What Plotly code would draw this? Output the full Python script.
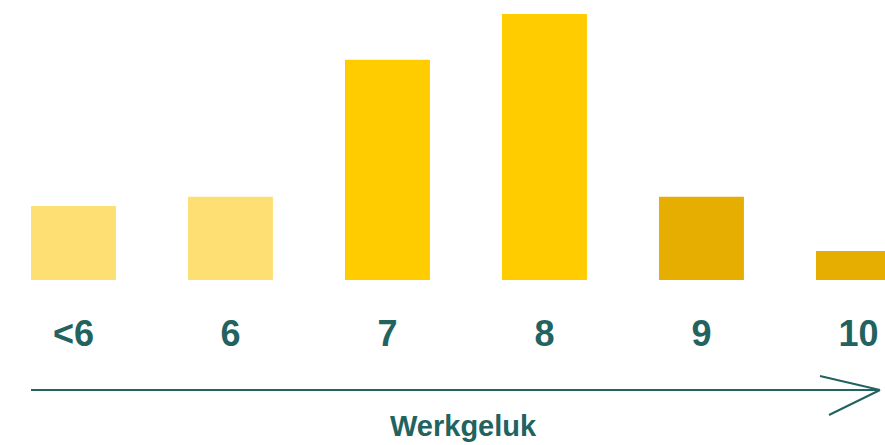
import plotly.graph_objects as go

categories = ["<6", "6", "7", "8", "9", "10"]
values = [8.9, 10.0, 26.5, 32.0, 10.0, 3.5]
bar_colors = ["#FEDF74", "#FEDF74", "#FFCC00", "#FFCC00", "#E5AE00", "#E5AE00"]
axis_title = "Werkgeluk"

TEAL = "#22625F"
W, H = 885, 445

fig = go.Figure(
    go.Bar(
        x=categories,
        y=values,
        marker=dict(color=bar_colors, line=dict(width=0)),
        hoverinfo="skip",
    )
)

fig.update_layout(
    width=W,
    height=H,
    margin=dict(l=0, r=0, t=0, b=0, pad=0, autoexpand=False),
    paper_bgcolor="white",
    plot_bgcolor="white",
    bargap=0.459,
    showlegend=False,
    xaxis=dict(
        type="category",
        range=[-0.468, 5.169],
        showgrid=False,
        zeroline=False,
        showline=False,
        ticks="",
        automargin=False,
        tickfont=dict(family="Liberation Sans, Arial, sans-serif", size=36,
                      color=TEAL, weight="bold"),
        ticklabelstandoff=29,
    ),
    yaxis=dict(
        domain=[1 - 280 / H, 1],
        range=[0, 33.68],
        visible=False,
        showgrid=False,
        zeroline=False,
        automargin=False,
    ),
    font=dict(family="Liberation Sans, Arial, sans-serif"),
)

# Arrow along the axis (open chevron head)
line_style = dict(color=TEAL, width=2)
fig.add_shape(type="line", xref="paper", yref="paper",
              x0=31 / W, x1=880 / W, y0=1 - 390 / H, y1=1 - 390 / H, line=line_style)
fig.add_shape(type="line", xref="paper", yref="paper",
              x0=820 / W, x1=880 / W, y0=1 - 376 / H, y1=1 - 390 / H, line=line_style)
fig.add_shape(type="line", xref="paper", yref="paper",
              x0=829 / W, x1=880 / W, y0=1 - 415 / H, y1=1 - 390 / H, line=line_style)

fig.add_annotation(
    text="<b>" + axis_title + "</b>",
    xref="paper", yref="paper",
    x=463 / W, y=1 - 426 / H,
    xanchor="center", yanchor="middle",
    showarrow=False,
    font=dict(family="Liberation Sans, Arial, sans-serif", size=29, color=TEAL),
)

fig.write_html(
    "out.html",
    config={"displayModeBar": False},
    post_script="document.body.style.margin='0';document.body.style.padding='0';document.body.style.overflow='hidden';",
)
